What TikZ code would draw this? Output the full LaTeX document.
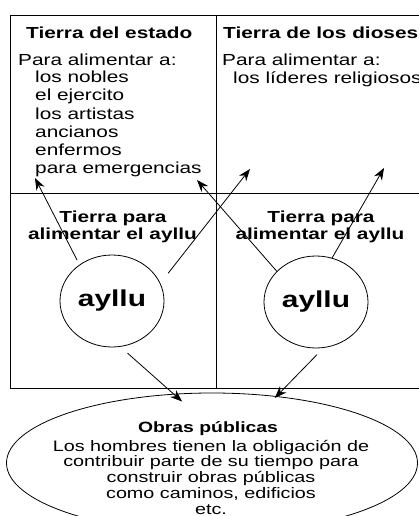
\documentclass[tikz,border=0pt]{standalone}
\usepackage{fontspec}
\setmainfont{Liberation Sans}[FakeStretch=1.3]
\usetikzlibrary{arrows.meta}
\usetikzlibrary{shapes.geometric}
\tikzset{>={Stealth[length=12pt,width=9pt]}}
\tikzset{
  txt/.style={anchor=base west,inner sep=0pt,font=\fontsize{16}{18}\selectfont},
  titulo/.style={txt,font=\fontsize{16}{18}\selectfont\bfseries},
  ayllu/.style={ellipse,draw,line width=0.8pt,minimum width=104pt,minimum height=92pt,
    inner sep=0pt,outer sep=0pt,font=\fontsize{23}{26}\selectfont\bfseries},
  flecha/.style={->,line width=0.8pt},
}

\begin{document}
\begin{tikzpicture}[x=1pt,y=-1pt]
  \useasboundingbox (0,0) rectangle (419,516);
  \clip (0,0) rectangle (419,516);

  % puntas de las flechas
  \coordinate (emerg) at (35,178);
  \coordinate (estadoR) at (250,169);
  \coordinate (diosesL) at (197,180);
  \coordinate (diosesR) at (384,168);

  % marco de las tierras
  \draw[line width=1pt] (10,16) rectangle (430,388);
  \draw[line width=1pt] (216,16) -- (216,388);
  \draw[line width=1pt] (10,193.5) -- (430,193.5);

  % tierra del estado
  \node[titulo] (estado) at (26,39) {Tierra del estado};
  \node[txt] (paraA) at (18,66) {Para alimentar a:};
  \foreach \t [count=\i] in {los nobles,el ejercito,los artistas,ancianos,enfermos,para emergencias}
    \node[txt] (est\i) at (35,{65+18*\i}) {\t};

  % tierra de los dioses
  \node[titulo] (dioses) at (223,39) {Tierra de los dioses};
  \node[txt] (paraB) at (222,66) {Para alimentar a:};
  \node[txt] (lideres) at (233,84) {los líderes religiosos};

  % tierra para el ayllu
  \node[titulo,anchor=base] (tpA) at (113,222) {Tierra para};
  \node[titulo,anchor=base] (alA) at (112.5,239) {alimentar el ayllu};
  \node[titulo,anchor=base] (tpB) at (321,222) {Tierra para};
  \node[titulo,anchor=base] (alB) at (320,239) {alimentar el ayllu};

  \node[ayllu] (ayllu1) at (112,301) {ayllu};
  \node[ayllu] (ayllu2) at (316,302) {ayllu};

  % obras publicas
  \node[ellipse,draw,line width=0.8pt,minimum width=411pt,minimum height=140pt,
    inner sep=0pt,outer sep=0pt] (obras) at (212,463) {};
  \node[titulo,anchor=base,font=\fontsize{14.9}{16}\selectfont\bfseries] (obrasT) at (208,432) {Obras públicas};
  \foreach \t [count=\i] in {Los hombres tienen la obligación de,contribuir parte de su tiempo para,
      construir obras públicas,{como caminos, edificios},etc.}
    \node[txt,anchor=base,font=\fontsize{15.2}{16}\selectfont] (obras\i) at (211,{435.25+15.75*\i}) {\t};

  % flechas
  \draw[flecha,shorten <=5.5pt] (ayllu1.132) -- (emerg);
  \draw[flecha,shorten <=13pt] (ayllu1.20) -- (estadoR);
  \draw[flecha] (ayllu2.142) -- (diosesL);
  \draw[flecha] (ayllu2.70) -- (diosesR);
  \draw[flecha,shorten <=10pt,shorten >=-11pt] (ayllu1.-80) -- (obras.119);
  \draw[flecha,shorten <=10pt,shorten >=-2pt] (ayllu2.-80) -- (obras.46);
\end{tikzpicture}
\end{document}
